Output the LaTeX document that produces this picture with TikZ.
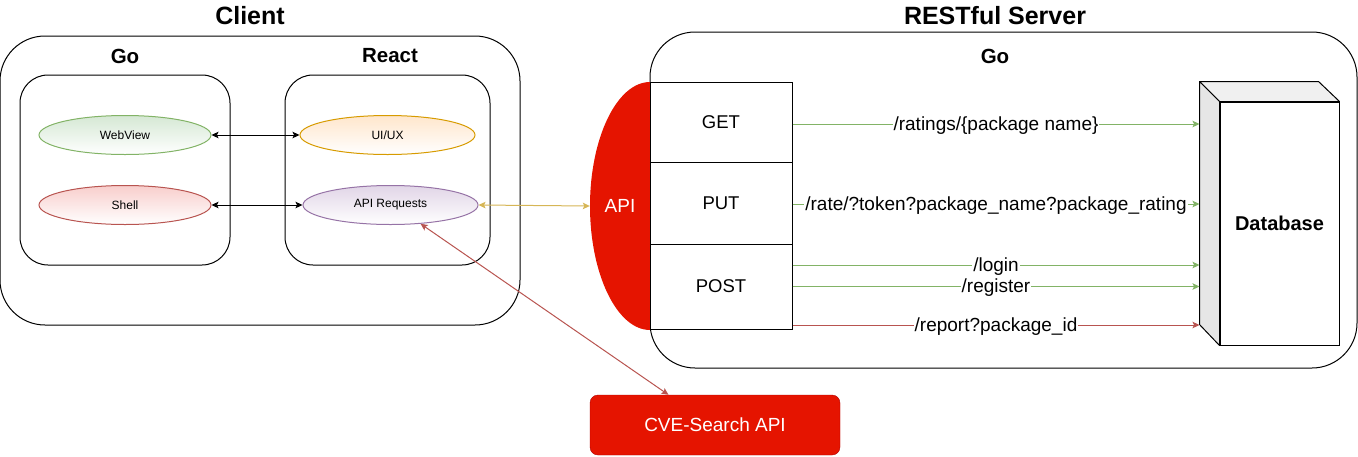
\documentclass[tikz,border=0pt]{standalone}
\usepackage{fontspec}
\setmainfont{Liberation Sans}
\usetikzlibrary{arrows.meta,shapes.geometric,calc}

\definecolor{gostroke}{HTML}{82B366}
\definecolor{gofill}{HTML}{D5E8D4}
\definecolor{shstroke}{HTML}{B85450}
\definecolor{shfill}{HTML}{F8CECC}
\definecolor{uistroke}{HTML}{D79B00}
\definecolor{uifill}{HTML}{FFE6CC}
\definecolor{rqstroke}{HTML}{9673A6}
\definecolor{rqfill}{HTML}{E1D5E7}
\definecolor{apiyellow}{HTML}{D6B656}
\definecolor{apired}{HTML}{E51400}
\definecolor{cveline}{HTML}{B20000}
\definecolor{dbtop}{HTML}{F0F0F0}
\definecolor{dbside}{HTML}{E6E6E6}

\tikzset{
  frame/.style={draw, line width=1pt, rounded corners=45pt},
  innerframe/.style={draw, line width=1pt, rounded corners=28pt},
  title/.style={font=\fontsize{25}{30}\selectfont\bfseries},
  heading/.style={font=\fontsize{20.5}{24}\selectfont\bfseries},
  bubble/.style={ellipse, line width=1pt, minimum width=172pt, minimum height=39pt,
    inner sep=0pt, bottom color=white, font=\fontsize{12}{14}\selectfont},
  verb/.style={draw, fill=white, line width=1pt, minimum width=142pt, inner sep=0pt,
    font=\fontsize{18.5}{22}\selectfont},
  apinode/.style={minimum width=60pt, minimum height=248pt, inner sep=0pt,
    text=white, font=\fontsize{19}{22}\selectfont},
  dbfront/.style={draw, fill=white, line width=1pt, minimum width=119pt,
    minimum height=243pt, inner sep=0pt, font=\fontsize{20}{24}\selectfont\bfseries},
  cvebox/.style={draw=cveline, fill=apired, rounded corners=8pt, minimum width=250pt,
    minimum height=60pt, text=white, font=\fontsize{19}{22}\selectfont},
  link/.style={line width=1pt, {Stealth[length=7pt,width=6.5pt,inset=1.5pt]}-{Stealth[length=7pt,width=6.5pt,inset=1.5pt]}},
  route/.style={line width=1pt, -{Stealth[length=7pt,width=6.5pt,inset=1.5pt]}},
  routelabel/.style={fill=white, inner sep=1pt, yshift=-1.5pt, text=black, font=\fontsize{19}{22}\selectfont}
}

\begin{document}
\begin{tikzpicture}[x=1pt,y=-1pt]
 \useasboundingbox (0,0) rectangle (1358,456);
 % client
 \draw[frame] (0,36) rectangle (520,325);
 \draw[innerframe] (20,75) rectangle (230,265);
 \draw[innerframe] (285,75) rectangle (490,265);
 \node[title] (clienttitle) at (250,16) {Client};
 \node[heading] (clientgo) at (125,56) {Go};
 \node[heading] (clientreact) at (390,56) {React};
 \node[bubble, draw=gostroke, top color=gofill] (webview) at (125,135) {WebView};
 \node[bubble, draw=shstroke, top color=shfill] (shell) at (125,205) {Shell};
 \node[bubble, draw=uistroke, top color=uifill, minimum width=175pt] (uiux) at (387.5,135) {UI/UX};
 \node[bubble, draw=rqstroke, top color=rqfill, minimum width=175pt] (apireq) at (390.5,205) {API Requests};
 \draw[link] (webview) -- (uiux);
 \draw[link] (shell) -- (apireq);

 % server
 \draw[frame] (650,32) rectangle (1357,368);
 \node[title] (servertitle) at (995,16) {RESTful Server};
 \node[heading] (servergo) at (995,56) {Go};
 \fill[apired] (650,82) .. controls (617,82) and (590,138) .. (590,206)
   .. controls (590,274) and (617,330) .. (650,330) -- cycle;
 \node[apinode] (api) at (620,206) {API};
 \node[verb, minimum height=80pt] (get) at (721,122) {GET};
 \node[verb, minimum height=82pt] (put) at (721,203) {PUT};
 \node[verb, minimum height=85pt] (post) at (721,286.5) {POST};

 % database
 \node[dbfront] (db) at (1279.5,223.5) {Database};
 \filldraw[fill=dbtop, line width=1pt, line join=round] (db.north west) -- ++(-20,-20) -- ++(119,0) -- (db.north east) -- cycle;
 \filldraw[fill=dbside, line width=1pt, line join=round] (db.north west) -- ++(-20,-20) -- ++(0,243) -- (db.south west) -- cycle;
 \coordinate (dbin) at ($(db.west)+(-20,0)$);

 % routes
 \draw[route, gostroke] ($(get.east)+(0,2)$) coordinate (ratings) -- (ratings -| dbin)
   node[routelabel, midway] {/ratings/\{package name\}};
 \draw[route, gostroke] ($(put.east)+(0,1)$) coordinate (rate) -- (rate -| dbin)
   node[routelabel, midway] {/rate/?token?package\_name?package\_rating};
 \draw[route, gostroke] ($(post.east)+(0,-21.5)$) coordinate (login) -- (login -| dbin)
   node[routelabel, midway] {/login};
 \draw[route, gostroke] (post.east) -- (post.east -| dbin)
   node[routelabel, midway] {/register};
 \draw[route, shstroke] ($(post.east)+(0,38.5)$) coordinate (report) -- (report -| dbin)
   node[routelabel, midway] {/report?package\_id};

 % outside
 \node[cvebox] (cve) at (715,425) {CVE-Search API};
 \draw[link, apiyellow] (apireq.east) -- (api.west);
 \draw[link, shstroke] (apireq.-32) -- (cve.147.5);
\end{tikzpicture}
\end{document}
